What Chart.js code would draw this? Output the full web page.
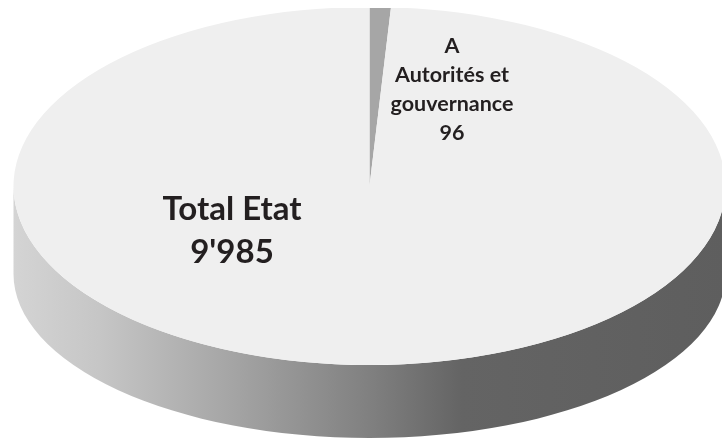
<!DOCTYPE html>
<html>
<head>
<meta charset="utf-8">
<style>html,body{margin:0;padding:0;background:#fff}canvas{display:block}</style>
<script src="https://cdn.jsdelivr.net/npm/chart.js@4"></script>
</head>
<body>
<canvas id="c" width="722" height="439"></canvas>
<script>
const categories = ["A Autorités et gouvernance", "Total Etat (reste)"];
const values = [96, 9889];
const sliceColors = ["#a6a6a6", "#efefef"];
const smallLabel = ["A", "Autorités et", "gouvernance", "96"];
const bigLabel = ["Total Etat", "9'985"];

const RX = 356, RY = 179, WALL_RY = 164, DEPTH = 88, TOP_CLIP = 8;

const pie3d = {
  id: "pie3d",
  beforeDatasetsDraw(chart) {
    const ctx = chart.ctx;
    const arc = chart.getDatasetMeta(0).data[0];
    const cx = arc.x, cy = arc.y, r = arc.outerRadius;
    ctx.save();
    ctx.beginPath();
    ctx.rect(0, TOP_CLIP, chart.width, chart.height - TOP_CLIP);
    ctx.clip();
    // side wall
    const g = ctx.createLinearGradient(cx - RX, 0, cx + RX, 0);
    g.addColorStop(0, "#d4d4d4");
    g.addColorStop(0.12, "#c6c6c6");
    g.addColorStop(0.3, "#a6a6a6");
    g.addColorStop(0.5, "#808080");
    g.addColorStop(0.63, "#646464");
    g.addColorStop(1, "#5e5e5e");
    ctx.fillStyle = g;
    ctx.beginPath();
    ctx.ellipse(cx, cy, RX, RY, 0, 0, Math.PI, false);
    ctx.lineTo(cx - RX, cy + DEPTH);
    ctx.ellipse(cx, cy + DEPTH, RX, WALL_RY, 0, Math.PI, 0, true);
    ctx.closePath();
    ctx.fill();
    // squash the library's circle into the top ellipse
    ctx.translate(cx, cy);
    ctx.scale(RX / r, RY / r);
    ctx.translate(-cx, -cy);
  },
  afterDatasetsDraw(chart) {
    const ctx = chart.ctx;
    ctx.restore();
    ctx.save();
    ctx.fillStyle = "#231f20";
    ctx.textAlign = "center";
    ctx.textBaseline = "middle";
    ctx.font = "bold 21.5px Lato";
    [46, 75, 104, 133].forEach((y, i) => ctx.fillText(smallLabel[i], 452, y));
    ctx.font = "bold 33px Lato";
    [209, 252].forEach((y, i) => ctx.fillText(bigLabel[i], 232, y));
    ctx.restore();
  }
};

new Chart(document.getElementById("c"), {
  type: "pie",
  data: {
    labels: categories,
    datasets: [{ data: values, backgroundColor: sliceColors, borderWidth: 0, clip: false }]
  },
  options: {
    responsive: false,
    animation: false,
    layout: { padding: { left: 17, right: 0, top: 0, bottom: 67 } },
    plugins: { legend: { display: false }, tooltip: { enabled: false } }
  },
  plugins: [pie3d]
});
</script>
</body>
</html>
